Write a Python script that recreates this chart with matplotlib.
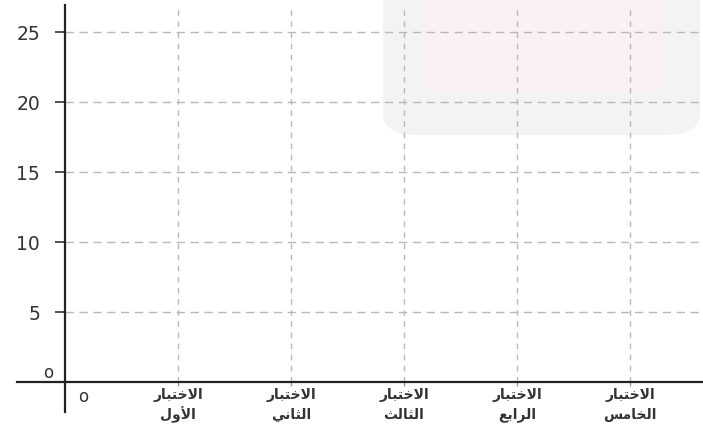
import matplotlib
matplotlib.use("Agg")
import matplotlib.pyplot as plt
from matplotlib.patches import FancyBboxPatch, Rectangle

# ---- data ----
categories_line1 = ["\uFEAD\uFE8E\uFE92\uFE98\uFEA7\uFEFB\uFE8D"] * 5  # الاختبار
categories_line2 = [
    "\uFEDD\uFEED\uFEF7\uFE8D",                 # الأول
    "\uFEF2\uFEE7\uFE8E\uFE9C\uFEDF\uFE8D",     # الثاني
    "\uFE9A\uFEDF\uFE8E\uFE9C\uFEDF\uFE8D",     # الثالث
    "\uFECA\uFE91\uFE8D\uFEAE\uFEDF\uFE8D",     # الرابع
    "\uFEB2\uFEE3\uFE8E\uFEA8\uFEDF\uFE8D",     # الخامس
]
x_positions = [1, 2, 3, 4, 5]
y_ticks = [5, 10, 15, 20, 25]
y_tick_labels = ["5", "10", "15", "20", "25"]

W, H = 703, 430
fig = plt.figure(figsize=(W / 100, H / 100), dpi=100)
fig.patch.set_facecolor("white")

# faint background watermark shapes
fig.patches.append(FancyBboxPatch((383 / W, 1 - 135 / H), 317 / W, 160 / H,
                                  boxstyle="round,pad=0,rounding_size=0.05",
                                  transform=fig.transFigure, facecolor="#f3f3f3",
                                  edgecolor="none", zorder=0))
fig.patches.append(Rectangle((425 / W, 1 - 92 / H), 235 / W, 92 / H,
                             transform=fig.transFigure, facecolor="#fcf1f2",
                             edgecolor="none", zorder=0))

ax = fig.add_axes([17 / W, (H - 412) / H, 686 / W, 407 / H])
ax.set_zorder(2)
ax.set_facecolor("none")
ax.set_xlim((17 - 65) / 113, (703 - 65) / 113)
ax.set_ylim((382 - 412) / 14, (382 - 5) / 14)

for s in ["top", "right"]:
    ax.spines[s].set_visible(False)
ax.spines["left"].set_position(("data", 0))
ax.spines["bottom"].set_position(("data", 0))
for s in ["left", "bottom"]:
    ax.spines[s].set_color("#222222")
    ax.spines[s].set_linewidth(1.6)

# grid lines
for y in y_ticks:
    ax.plot([0, ax.get_xlim()[1]], [y, y], color="#b8b8b8", lw=1.0,
            dashes=(6, 4), zorder=1)
for x in x_positions:
    ax.plot([x, x], [0, ax.get_ylim()[1]], color="#b8b8b8", lw=1.0,
            dashes=(4, 4), zorder=1)

ax.set_yticks(y_ticks)
ax.set_yticklabels(y_tick_labels, fontsize=13.5, color="#333333",
                   family="DejaVu Sans")
ax.tick_params(axis="y", direction="out", length=7, width=1.2,
               color="#333333", pad=11)

ax.set_xticks(x_positions)
ax.set_xticklabels([])
ax.tick_params(axis="x", direction="out", length=3, width=1, color="#999999")

for x, l1, l2 in zip(x_positions, categories_line1, categories_line2):
    ax.text(x, -0.9, l1, ha="center", va="center", fontsize=10,
            fontweight="bold", color="#333333", family="DejaVu Sans")
    ax.text(x, -2.35, l2, ha="center", va="center", fontsize=10,
            fontweight="bold", color="#333333", family="DejaVu Sans")

ax.text(0.16, -1.07, "o", ha="center", va="center", fontsize=12,
        color="#333333", family="DejaVu Sans")
ax.text(-0.15, 0.62, "o", ha="center", va="center", fontsize=12,
        color="#333333", family="DejaVu Sans")

fig.savefig("out.png", dpi=100)
